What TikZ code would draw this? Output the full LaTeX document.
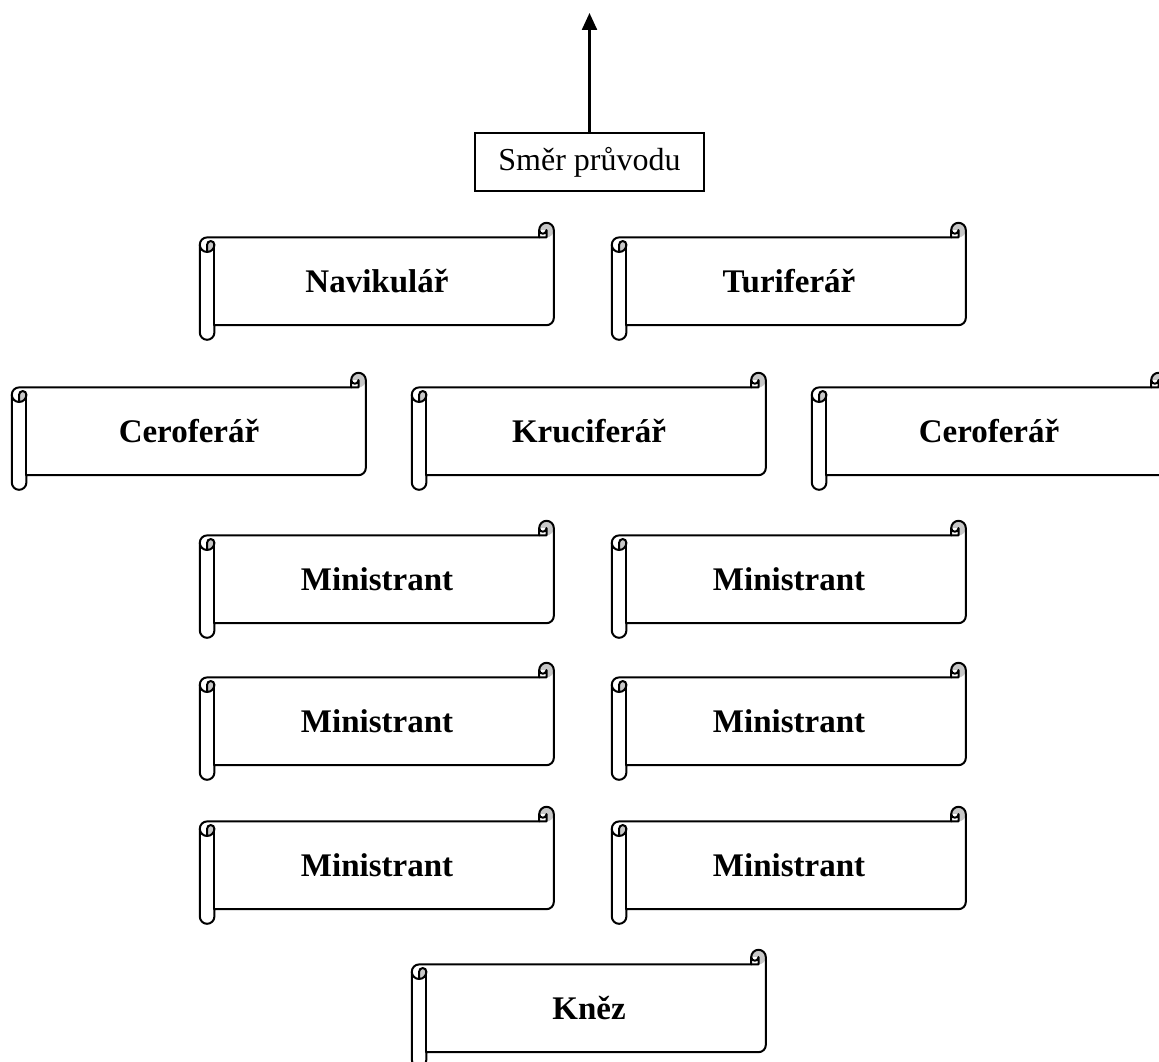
\documentclass[tikz,border=0pt]{standalone}
\usepackage{fontspec}
\setmainfont{Liberation Serif}
\usetikzlibrary{arrows.meta}
\tikzset{
  scrollline/.style={line width=2pt, line join=round, line cap=round},
  curlfill/.style={fill=black!22},
  scrollnode/.style={minimum width=354pt, minimum height=117pt, inner sep=0pt,
    font=\bfseries\fontsize{33}{39}\selectfont},
  dirbox/.style={draw, line width=1.6pt, minimum width=229pt, minimum height=58pt,
    inner sep=0pt, font=\fontsize{32}{38}\selectfont},
  dirarrow/.style={line width=2.3pt, -{Triangle[width=15pt,length=17pt]}},
}
\newcommand\drawScroll[1]{%
  \begin{scope}[shift={(#1.north west)}]
    \fill[curlfill] (346.7,7.3) circle[radius=7.3];
    \fill[white] (339.4,7.3) rectangle (346.7,14.6);
    \fill[curlfill] (7.3,29.2) arc[start angle=90,end angle=0,radius=7.3]
      arc[start angle=0,end angle=-180,radius=3.65] -- cycle;
    \draw[scrollline] (0,21.9) arc[start angle=180,end angle=270,radius=7.3]
      -- (339.4,14.6) -- (339.4,7.3) arc[start angle=180,end angle=360,radius=7.3]
      -- (354,95.1) arc[start angle=0,end angle=90,radius=7.3]
      -- (14.6,102.4) -- (14.6,109.7) arc[start angle=0,end angle=180,radius=7.3] -- cycle;
    \draw[scrollline] (339.4,14.6) -- (346.7,14.6) -- (346.7,7.3)
      arc[start angle=0,end angle=180,radius=3.65];
    \draw[scrollline] (7.3,29.2) -- (7.3,21.9) arc[start angle=180,end angle=360,radius=3.65]
      arc[start angle=0,end angle=180,radius=7.3];
    \draw[scrollline] (14.6,21.9) -- (14.6,102.4);
  \end{scope}}
\begin{document}
\begin{tikzpicture}[x=1pt,y=-1pt]
  \clip (0,0) rectangle (1159,1062);
  \fill[white] (0,0) rectangle (1159,1062);
  % direction box and arrow
  \node[dirbox] (dir) at (589.5,162) {Směr průvodu};
  \coordinate (tip) at (589.5,13);
  \draw[dirarrow] (dir.north) -- (tip);
  % scrolls
  \node[scrollnode] (nav)  at (377,281.5) {Navikulář};
  \node[scrollnode] (tur)  at (789,281.5) {Turiferář};
  \node[scrollnode] (cerL) at (189,431.5) {Ceroferář};
  \node[scrollnode] (kru)  at (589,431.5) {Kruciferář};
  \node[scrollnode] (cerR) at (989,431.5) {Ceroferář};
  \node[scrollnode] (minA) at (377,579.5) {Ministrant};
  \node[scrollnode] (minB) at (789,579.5) {Ministrant};
  \node[scrollnode] (minC) at (377,721.5) {Ministrant};
  \node[scrollnode] (minD) at (789,721.5) {Ministrant};
  \node[scrollnode] (minE) at (377,865.5) {Ministrant};
  \node[scrollnode] (minF) at (789,865.5) {Ministrant};
  \node[scrollnode] (knez) at (589,1008.5) {Kněz};
  \foreach \n in {nav,tur,cerL,kru,cerR,minA,minB,minC,minD,minE,minF,knez}{\drawScroll{\n}}
\end{tikzpicture}
\end{document}
